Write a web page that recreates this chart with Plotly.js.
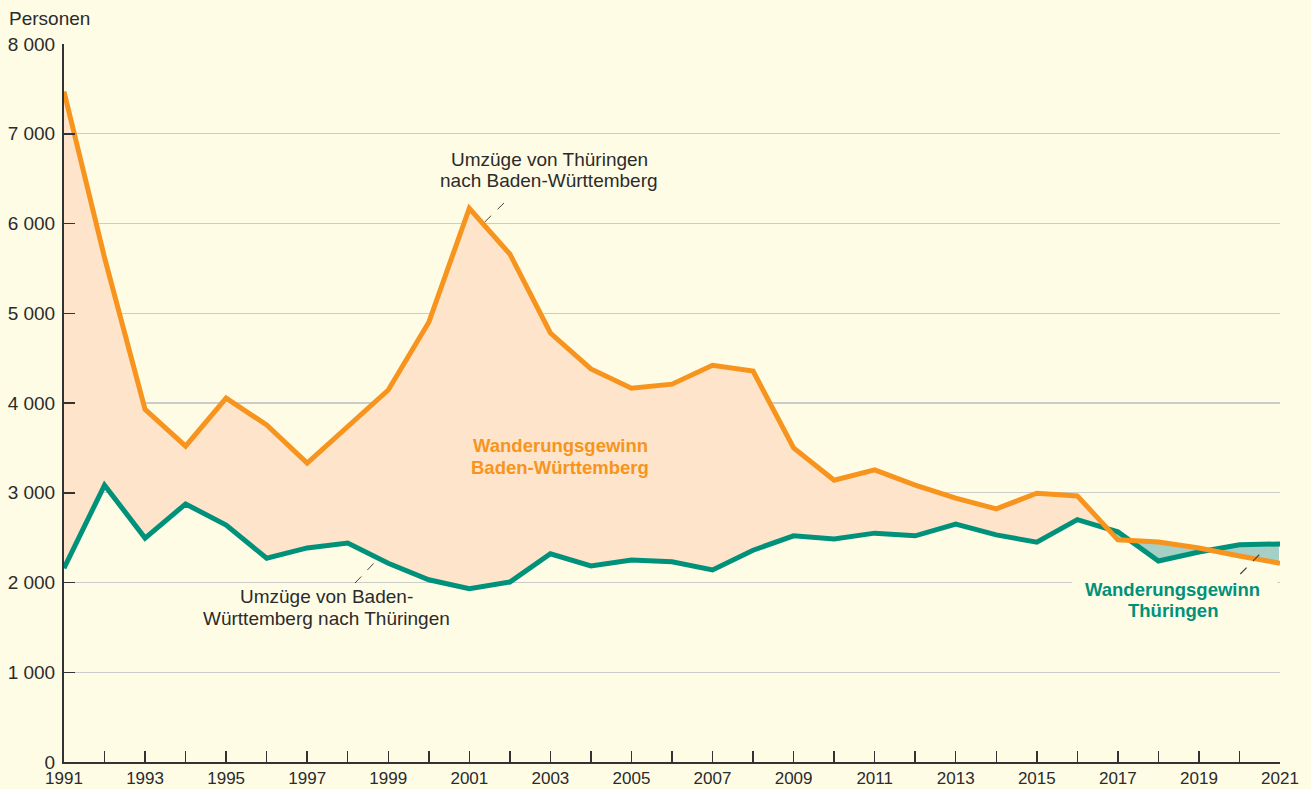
<!DOCTYPE html>
<html>
<head>
<meta charset="utf-8">
<script src="https://cdn.plot.ly/plotly-3.0.1.min.js"></script>
<style>
  html, body { margin: 0; padding: 0; background: #fffce6; }
  #chart { width: 1311px; height: 789px; }
</style>
</head>
<body>
<div id="chart"></div>
<script>
// ---- Data ----
const years = [1991,1992,1993,1994,1995,1996,1997,1998,1999,2000,2001,2002,2003,2004,2005,2006,2007,2008,2009,2010,2011,2012,2013,2014,2015,2016,2017,2018,2019,2020,2021];
// Umzüge von Thüringen nach Baden-Württemberg
const thToBw = [7470,5620,3930,3520,4055,3755,3330,3730,4145,4900,6170,5660,4780,4380,4165,4210,4420,4355,3500,3140,3255,3085,2940,2820,2995,2965,2475,2450,2385,2295,2215];
// Umzüge von Baden-Württemberg nach Thüringen
const bwToTh = [2160,3085,2495,2875,2640,2270,2385,2440,2215,2030,1930,2005,2320,2185,2250,2230,2140,2360,2520,2485,2550,2520,2650,2530,2450,2700,2565,2240,2340,2420,2430];

const yTickVals = [0,1000,2000,3000,4000,5000,6000,7000,8000];
const yTickText = ["0","1 000","2 000","3 000","4 000","5 000","6 000","7 000","8 000"];
const xTickText = years.map((y, i) => (i % 2 === 0 ? String(y) : ""));

const labelThBw = ["Umzüge von Thüringen", "nach Baden-Württemberg"];
const labelBwTh = ["Umzüge von Baden-", "Württemberg nach Thüringen"];
const labelGainBw = ["Wanderungsgewinn", "Baden-Württemberg"];
const labelGainTh = ["Wanderungsgewinn", "Thüringen"];
const yAxisLabel = "Personen";

// ---- Colours ----
const cOrange = "#f7941d";
const cGreen = "#00917a";
const cPeach = "#fde4cb";
const cTeal = "#a6cfc6";
const cBg = "#fffce6";
const cText = "#2b2b2b";

// ---- Split fills at first crossing (orange drops below green) ----
let k = 0;
for (let i = 0; i < years.length - 1; i++) {
  if (thToBw[i] > bwToTh[i] && thToBw[i + 1] <= bwToTh[i + 1]) { k = i; break; }
}
const d0 = thToBw[k] - bwToTh[k];
const d1 = thToBw[k + 1] - bwToTh[k + 1];
const t = d0 / (d0 - d1);
const xc = years[k] + t * (years[k + 1] - years[k]);
const yc = thToBw[k] + t * (thToBw[k + 1] - thToBw[k]);

const peachX = years.slice(0, k + 1).concat([xc]).concat(years.slice(0, k + 1).reverse());
const peachY = thToBw.slice(0, k + 1).concat([yc]).concat(bwToTh.slice(0, k + 1).reverse());
const tealX = [xc].concat(years.slice(k + 1)).concat(years.slice(k + 1).reverse());
const tealY = [yc].concat(thToBw.slice(k + 1)).concat(bwToTh.slice(k + 1).reverse());

const traces = [
  { x: peachX, y: peachY, type: "scatter", mode: "lines", fill: "toself", fillcolor: cPeach,
    line: { color: "#ffffff", width: 2 }, hoverinfo: "skip", showlegend: false },
  { x: tealX, y: tealY, type: "scatter", mode: "lines", fill: "toself", fillcolor: cTeal,
    line: { color: "#ffffff", width: 2 }, hoverinfo: "skip", showlegend: false },
  { x: years, y: bwToTh, type: "scatter", mode: "lines", name: "BW → TH",
    line: { color: cGreen, width: 5 }, showlegend: false },
  { x: years, y: thToBw, type: "scatter", mode: "lines", name: "TH → BW",
    line: { color: cOrange, width: 5 }, showlegend: false }
];

function txt(x, y, text, size, color, bold) {
  const f = { size: size, color: color };
  if (bold) f.weight = "bold";
  return { x: x, y: y, text: text, showarrow: false, font: f, xanchor: "center", yanchor: "middle" };
}

const fontFam = "Liberation Sans, Arial, sans-serif";
const layout = {
  width: 1311, height: 789,
  paper_bgcolor: cBg, plot_bgcolor: cBg,
  margin: { l: 64, r: 31, t: 44, b: 27 },
  font: { family: fontFam, size: 19, color: cText },
  showlegend: false,
  xaxis: {
    range: [1991, 2021], tickmode: "array", tickvals: years, ticktext: xTickText,
    ticks: "inside", ticklen: 11, tickwidth: 1.5, tickcolor: "#333",
    showline: true, linecolor: "#333", linewidth: 2,
    showgrid: false, zeroline: false,
    tickfont: { size: 17, color: cText }, ticklabelstandoff: 0
  },
  yaxis: {
    range: [0, 8000], tickmode: "array", tickvals: yTickVals, ticktext: yTickText,
    ticks: "inside", ticklen: 11, tickwidth: 1.5, tickcolor: "#333",
    showline: true, linecolor: "#333", linewidth: 2,
    showgrid: true, gridcolor: "#cccccc", gridwidth: 1.2, zeroline: false,
    tickfont: { size: 19, color: cText }, ticklabelstandoff: 3
  },
  annotations: [
    { xref: "paper", yref: "paper", x: 0, y: 1, xshift: -57, yshift: 13, xanchor: "left", yanchor: "bottom",
      text: yAxisLabel, showarrow: false, font: { size: 19, color: cText } },
    txt(2002.97, 6718, labelThBw[0], 19, cText, false),
    txt(2002.97, 6474, labelThBw[1], 19, cText, false),
    txt(1997.48, 1844, labelBwTh[0], 19, cText, false),
    txt(1997.48, 1599, labelBwTh[1], 19, cText, false),
    txt(2003.24, 3521, labelGainBw[0], 18.5, cOrange, true),
    txt(2003.24, 3276, labelGainBw[1], 18.5, cOrange, true),
    txt(2018.36, 1927, labelGainTh[0], 18.5, cGreen, true),
    txt(2018.36, 1683, labelGainTh[1], 18.5, cGreen, true)
  ],
  shapes: [
    { type: "rect", layer: "between", x0: 2015.87, x1: 2020.93, y0: 1940, y1: 2060,
      fillcolor: cBg, line: { width: 0 } },
    { type: "line", x0: 2001.38, y0: 6017, x1: 2001.93, y1: 6262, line: { color: "#444", width: 1, dash: "dash" } },
    { type: "line", x0: 1998.18, y0: 1994, x1: 1998.72, y1: 2251, line: { color: "#444", width: 1, dash: "dash" } },
    { type: "line", x0: 2020.02, y0: 2095, x1: 2020.53, y1: 2329, line: { color: "#444", width: 1.2, dash: "dash" } }
  ]
};

Plotly.newPlot("chart", traces, layout, { displayModeBar: false, staticPlot: true });
</script>
</body>
</html>
